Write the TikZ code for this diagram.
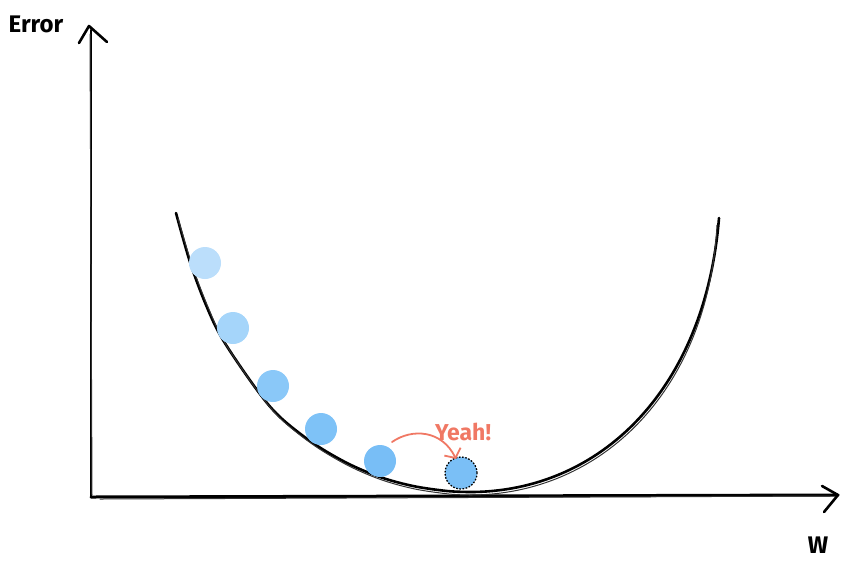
\documentclass[tikz,border=0pt]{standalone}
\usepackage{fontspec}
\setmainfont{Fira Sans}
\usetikzlibrary{arrows.meta}
\definecolor{ballA}{RGB}{187,222,251}
\definecolor{ballB}{RGB}{165,213,250}
\definecolor{ballC}{RGB}{138,200,248}
\definecolor{ballD}{RGB}{126,194,247}
\definecolor{ballE}{RGB}{120,190,246}
\definecolor{ballF}{RGB}{122,191,246}
\definecolor{yeah}{RGB}{240,120,100}
\tikzset{
  sketch/.style={draw=black, line width=2.6pt, line cap=round, line join=round},
  sketchthin/.style={draw=black!80, line width=1pt, line cap=round, line join=round},
  ball/.style={circle, minimum size=32pt, inner sep=0pt, draw=none},
  lbl/.style={font=\bfseries\fontsize{24}{26}\selectfont, text=black, inner sep=0pt},
}
\begin{document}
\begin{tikzpicture}[x=1pt,y=-1pt]
\useasboundingbox (0,0) rectangle (842,566);
% axes
\coordinate (o) at (91,497);
\coordinate (ytip) at (89,26);
\coordinate (xtip) at (838,495);
\draw[sketch] (o) -- (91,30);
\draw[sketchthin] (92,495) -- (90,34);
\draw[sketch] (79,43) -- (ytip) -- (107,42);
\draw[sketch, line width=3pt] (o) -- (xtip);
\draw[sketchthin] (100,499) -- (830,496);
\draw[sketch] (822,486) -- (xtip) -- (824,512);
% curve
\coordinate (cmin) at (470,492);
\coordinate (cend) at (719,218);
\draw[sketch, line width=2.6pt] plot[smooth, tension=0.55] coordinates {
 (176,213) (190,262) (206,305) (223,340) (257,390) (280,417) (313,443)
 (347,463) (380,477) (413,486) (447,491) (470,492)}
 .. controls (600,492) and (705,390) .. (cend);
\draw[sketchthin] plot[smooth, tension=0.55] coordinates {
 (178,218) (192,265) (208,307) (225,343) (259,393) (282,420) (315,446)
 (349,466) (382,480) (415,489) (449,494) (470,495)}
 .. controls (600,495) and (708,392) .. (717,225);
% balls
\node[ball, fill=ballA] (b1) at (205,263) {};
\node[ball, fill=ballB] (b2) at (233,328) {};
\node[ball, fill=ballC] (b3) at (273,386) {};
\node[ball, fill=ballD] (b4) at (321,429) {};
\node[ball, fill=ballE] (b5) at (380,461) {};
\node[ball, fill=ballF, draw=black, line width=1.3pt, dash pattern=on 1.6pt off 1.6pt] (b6) at (461,473) {};
% arrow
\coordinate (as) at (392,442);
\coordinate (ae) at (456,459);
\draw[draw=yeah, line width=1.8pt, line cap=round, -{Straight Barb[length=7pt,width=18pt]}]
  (as) .. controls (412,428) and (442,430) .. (ae);
\node[lbl, text=yeah, font=\bfseries\fontsize{23}{25}\selectfont] (yeah) at (463,432) {Yeah!};
% labels
\node[lbl] (err) at (36,24) {Error};
\node[lbl] (w) at (818,545) {W};
\end{tikzpicture}
\end{document}
